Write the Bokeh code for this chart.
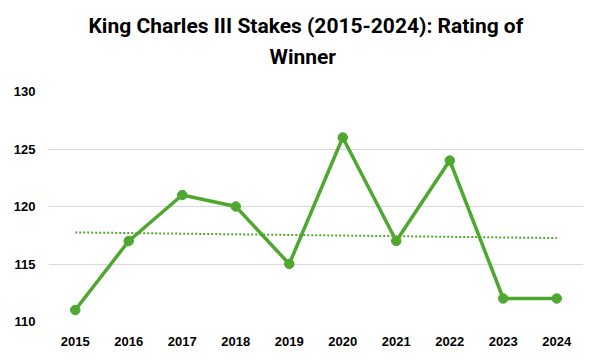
import numpy as np
from bokeh.plotting import figure
from bokeh.models import Range1d, FixedTicker, Title
from bokeh.embed import file_html
from bokeh.resources import INLINE

years = [2015, 2016, 2017, 2018, 2019, 2020, 2021, 2022, 2023, 2024]
ratings = [111, 117, 121, 120, 115, 126, 117, 124, 112, 112]
y_ticks = [110, 115, 120, 125, 130]
title_line1 = "King Charles III Stakes (2015-2024): Rating of"
title_line2 = "Winner"

GREEN = "#4EA72E"
GRID = "#D9D9D9"
TICK_FONT = "Liberation Sans"
TITLE_FONT = "Roboto"

p = figure(width=602, height=361, output_backend="svg", toolbar_location=None,
           x_range=Range1d(2014.5, 2024.5), y_range=Range1d(110, 130),
           min_border_left=48, min_border_right=19, min_border_top=91, min_border_bottom=40)
p.outline_line_color = None
p.background_fill_color = "white"
p.border_fill_color = "white"

# axes
p.xaxis.ticker = FixedTicker(ticks=years)
p.yaxis.ticker = FixedTicker(ticks=y_ticks)
for ax in (p.xaxis[0], p.yaxis[0]):
    ax.axis_line_color = None
    ax.major_tick_line_color = None
    ax.minor_tick_line_color = None
    ax.major_tick_in = 0
    ax.major_tick_out = 0
    ax.major_label_text_font = TICK_FONT
    ax.major_label_text_font_style = "bold"
    ax.major_label_text_font_size = "13px"
    ax.major_label_text_color = "#000000"
p.xaxis.major_label_standoff = 15
p.yaxis.major_label_standoff = 13

p.xgrid.grid_line_color = None
p.ygrid.ticker = FixedTicker(ticks=y_ticks)
p.ygrid.grid_line_color = GRID
p.ygrid.grid_line_width = 1

# trend line (linear least squares, like Excel's linear trendline)
slope, intercept = np.polyfit(years, ratings, 1)
trend = [slope * x + intercept for x in years]
p.line(years, trend, line_color=GREEN, line_width=2, line_dash="2 2")

# main series
p.line(years, ratings, line_color=GREEN, line_width=3.5)
p.scatter(years, ratings, size=9.5, fill_color=GREEN, line_color=GREEN)

# title: two lines, stacked above the plot (first added sits nearest the frame)
t2 = Title(text=title_line2, align="left", offset=221, standoff=45,
           text_font=TITLE_FONT, text_font_style="bold", text_font_size="21px",
           text_color="#000000")
t1 = Title(text=title_line1, align="left", offset=40, standoff=-35,
           text_font=TITLE_FONT, text_font_style="bold", text_font_size="21px",
           text_color="#000000")
p.add_layout(t2, "above")
p.add_layout(t1, "above")

open("out.html", "w").write(file_html(p, INLINE))
